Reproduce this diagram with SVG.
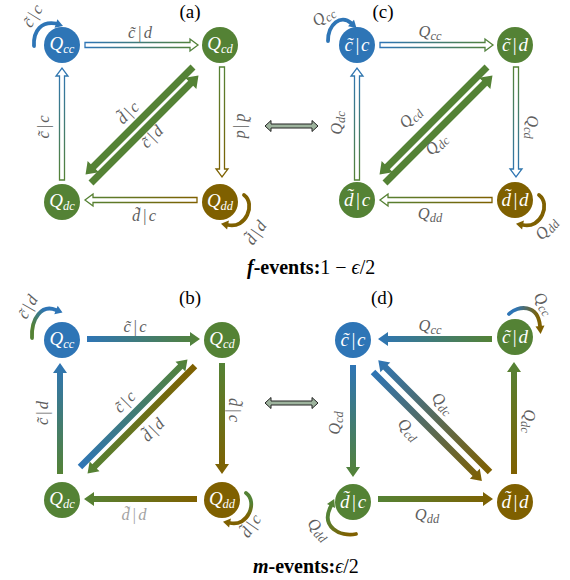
<svg xmlns="http://www.w3.org/2000/svg" width="570" height="580" viewBox="0 0 570 580">
<style>
.lbl{font-family:"Liberation Serif","DejaVu Serif",serif;font-style:italic;font-size:16.5px;fill:#5f5f5f;text-anchor:middle}
.lt{fill:#a3a3a3}
.nt{font-family:"Liberation Serif","DejaVu Serif",serif;font-style:italic;font-size:19px;fill:#fff;text-anchor:middle}
.sub{font-size:12.5px}
.pl{font-family:"Liberation Serif","DejaVu Serif",serif;font-size:19px;fill:#000;text-anchor:middle}
.ttl{font-family:"Liberation Serif","DejaVu Serif",serif;font-size:20px;fill:#000}
.hol{fill:#fff;stroke-width:1.3}
.blue{fill:#2E75B6}.green{fill:#548235}.brown{fill:#7F6000}
.loop{fill:none;stroke-width:3.8;stroke-linecap:round}
.dbl{fill:#9DB39D;stroke:#222;stroke-width:1}
</style>
<defs>
<linearGradient id="gBG"><stop offset="0" stop-color="#2E75B6"/><stop offset="1" stop-color="#548235"/></linearGradient>
<linearGradient id="gGB"><stop offset="0" stop-color="#548235"/><stop offset="1" stop-color="#2E75B6"/></linearGradient>
<linearGradient id="gGR"><stop offset="0" stop-color="#548235"/><stop offset="1" stop-color="#7F6000"/></linearGradient>
<linearGradient id="gRG"><stop offset="0" stop-color="#7F6000"/><stop offset="1" stop-color="#548235"/></linearGradient>
<linearGradient id="gBR"><stop offset="0" stop-color="#2E75B6"/><stop offset="1" stop-color="#7F6000"/></linearGradient>
<linearGradient id="gRB"><stop offset="0" stop-color="#7F6000"/><stop offset="1" stop-color="#2E75B6"/></linearGradient>
<linearGradient id="lpB1" gradientUnits="userSpaceOnUse" x1="32" y1="338" x2="62" y2="310"><stop offset="0.2" stop-color="#548235"/><stop offset="0.7" stop-color="#2E75B6"/></linearGradient>
<linearGradient id="lpB2" gradientUnits="userSpaceOnUse" x1="0" y1="494" x2="0" y2="523"><stop offset="0.3" stop-color="#548235"/><stop offset="0.8" stop-color="#7F6000"/></linearGradient>
<linearGradient id="lpD1" gradientUnits="userSpaceOnUse" x1="509" y1="0" x2="542" y2="0"><stop offset="0.2" stop-color="#2E75B6"/><stop offset="0.9" stop-color="#7F6000"/></linearGradient>
<linearGradient id="lpD2" gradientUnits="userSpaceOnUse" x1="356" y1="534" x2="330" y2="500"><stop offset="0.1" stop-color="#7F6000"/><stop offset="0.7" stop-color="#548235"/></linearGradient>
</defs>

<g id="connectors">
<!-- (a) -->
<path class="hol" stroke="url(#gBG)" transform="translate(85,45)" d="M0,-2.5 H105 V-6 L113,0 L105,6 V2.5 H0 Z"/>
<path class="hol" stroke="url(#gGB)" transform="translate(62,180) rotate(-90)" d="M0,-2.5 H104 V-6 L112,0 L104,6 V2.5 H0 Z"/>
<path class="hol" stroke="url(#gGR)" transform="translate(222,67) rotate(90)" d="M0,-2.5 H102 V-6 L110,0 L102,6 V2.5 H0 Z"/>
<path class="hol" stroke="url(#gRG)" transform="translate(197,200) rotate(180)" d="M0,-2.5 H104 V-6 L112,0 L104,6 V2.5 H0 Z"/>
<path class="green" transform="translate(193,67) rotate(135)" d="M0,-3.5 H141 V-8 L152,0 L141,8 V3.5 H0 Z"/>
<path class="green" transform="translate(91,183) rotate(-45)" d="M0,-3.5 H141 V-8 L152,0 L141,8 V3.5 H0 Z"/>
<path class="loop" stroke="#2E75B6" d="M34,46 C33,30 42,21 56,23.5"/>
<path class="blue" d="M63,26 L54.6,27.8 L57.4,19.2 Z"/>
<path class="loop" stroke="#7F6000" d="M244,195 C256,204 246,229 228,225"/>
<path class="brown" d="M221,223.7 L228.9,220.6 L227.1,229.4 Z"/>

<!-- (c) -->
<path class="hol" stroke="url(#gBG)" transform="translate(380,45)" d="M0,-2.5 H105 V-6 L113,0 L105,6 V2.5 H0 Z"/>
<path class="hol" stroke="url(#gGB)" transform="translate(357,180) rotate(-90)" d="M0,-2.5 H104 V-6 L112,0 L104,6 V2.5 H0 Z"/>
<path class="hol" stroke="url(#gGB)" transform="translate(516,67) rotate(90)" d="M0,-2.5 H102 V-6 L110,0 L102,6 V2.5 H0 Z"/>
<path class="hol" stroke="url(#gRG)" transform="translate(492,200) rotate(180)" d="M0,-2.5 H104 V-6 L112,0 L104,6 V2.5 H0 Z"/>
<path class="green" transform="translate(487,67) rotate(135)" d="M0,-3.5 H141 V-8 L152,0 L141,8 V3.5 H0 Z"/>
<path class="green" transform="translate(385,183) rotate(-45)" d="M0,-3.5 H141 V-8 L152,0 L141,8 V3.5 H0 Z"/>
<path class="loop" stroke="#2E75B6" d="M328,41 C328,24 341,14 351,23"/>
<path class="blue" d="M356.5,28 L348,26.3 L354,19.7 Z"/>
<path class="loop" stroke="#7F6000" d="M539,195 C551,204 541,229 523,225"/>
<path class="brown" d="M516,223.7 L523.9,220.6 L522.1,229.4 Z"/>

<!-- double arrows -->
<path class="dbl" d="M265,126 L271,120.5 V124 H312 V120.5 L318,126 L312,131.5 V128 H271 V131.5 Z"/>
<path class="dbl" d="M265,403 L271,397.5 V401 H312 V397.5 L318,403 L312,408.5 V405 H271 V408.5 Z"/>

<!-- (b) -->
<path fill="url(#gBG)" transform="translate(87,339)" d="M0,-3 H103 V-7 L113,0 L103,7 V3 H0 Z"/>
<path fill="url(#gGB)" transform="translate(60,474) rotate(-90)" d="M0,-3 H101 V-7 L111,0 L101,7 V3 H0 Z"/>
<path fill="url(#gGR)" transform="translate(222,363) rotate(90)" d="M0,-3 H101 V-7 L111,0 L101,7 V3 H0 Z"/>
<path fill="url(#gRG)" transform="translate(197,499) rotate(180)" d="M0,-3 H103 V-7 L113,0 L103,7 V3 H0 Z"/>
<path fill="url(#gBG)" transform="translate(80,467) rotate(-45)" d="M0,-3.2 H142 V-7 L152,0 L142,7 V3.2 H0 Z"/>
<path fill="url(#gRG)" transform="translate(195,366) rotate(135)" d="M0,-3.2 H142 V-7 L152,0 L142,7 V3.2 H0 Z"/>
<path class="loop" stroke="url(#lpB1)" d="M32,338 C31,318 42,304 56,310"/>
<path class="blue" d="M62.5,312.6 L54.3,314.2 L57.7,305.8 Z"/>
<path class="loop" stroke="url(#lpB2)" d="M246,493 C258,502 248,527 230,523"/>
<path class="brown" d="M223,521.7 L230.9,518.6 L229.1,527.4 Z"/>

<!-- (d) -->
<path fill="url(#gGB)" transform="translate(492,339) rotate(180)" d="M0,-3 H104 V-7 L114,0 L104,7 V3 H0 Z"/>
<path fill="url(#gBG)" transform="translate(353,365) rotate(90)" d="M0,-3 H102 V-7 L112,0 L102,7 V3 H0 Z"/>
<path fill="url(#gRG)" transform="translate(514,474) rotate(-90)" d="M0,-3 H102 V-7 L112,0 L102,7 V3 H0 Z"/>
<path fill="url(#gGR)" transform="translate(378,499)" d="M0,-3 H105 V-7 L115,0 L105,7 V3 H0 Z"/>
<path fill="url(#gBR)" transform="translate(373,372) rotate(45)" d="M0,-3.2 H144 V-7 L154,0 L144,7 V3.2 H0 Z"/>
<path fill="url(#gRB)" transform="translate(490,472) rotate(-135)" d="M0,-3.2 H148 V-7 L158,0 L148,7 V3.2 H0 Z"/>
<path class="loop" stroke="url(#lpD1)" d="M509,314 C518,305 538,304 540,326"/>
<path class="brown" d="M540.6,334 L535.5,326.4 L544.5,325.6 Z"/>
<path class="loop" stroke="url(#lpD2)" d="M356,534 C340,537 320,527 331,506"/>
<path class="green" d="M334.2,499 L335,508.1 L327,503.9 Z"/>
</g>

<g id="edge-labels">
<!-- (a) -->
<text class="lbl" transform="translate(33,16) rotate(-58)" y="5">c̃<tspan dx="2">|</tspan><tspan dx="2">c</tspan></text>
<text class="lbl" x="140" y="38">c̃<tspan dx="2">|</tspan><tspan dx="2">d</tspan></text>
<text class="lbl" transform="translate(44,127) rotate(-90)" y="5">c̃<tspan dx="2">|</tspan><tspan dx="2">c</tspan></text>
<text class="lbl" transform="translate(242,126) rotate(90)" y="5">d̃<tspan dx="2">|</tspan><tspan dx="2">d</tspan></text>
<text class="lbl" x="144" y="221">d̃<tspan dx="2">|</tspan><tspan dx="2">c</tspan></text>
<text class="lbl" transform="translate(128,113) rotate(-45)" y="5">d̃<tspan dx="2">|</tspan><tspan dx="2">c</tspan></text>
<text class="lbl" transform="translate(152,137) rotate(-45)" y="5">c̃<tspan dx="2">|</tspan><tspan dx="2">d</tspan></text>
<text class="lbl" transform="translate(256,233) rotate(-55)" y="5">d̃<tspan dx="2">|</tspan><tspan dx="2">d</tspan></text>
<!-- (c) -->
<text class="lbl" transform="translate(324,17) rotate(-35)" y="4">Q<tspan class="sub" dy="3">cc</tspan></text>
<text class="lbl" x="430" y="37">Q<tspan class="sub" dy="3">cc</tspan></text>
<text class="lbl" transform="translate(338,123) rotate(-90)" y="4">Q<tspan class="sub" dy="3">dc</tspan></text>
<text class="lbl" transform="translate(531,127) rotate(90)" y="4">Q<tspan class="sub" dy="3">cd</tspan></text>
<text class="lbl" x="430" y="219">Q<tspan class="sub" dy="3">dd</tspan></text>
<text class="lbl" transform="translate(411,118) rotate(-45)" y="4">Q<tspan class="sub" dy="3">cd</tspan></text>
<text class="lbl" transform="translate(437,145) rotate(-45)" y="4">Q<tspan class="sub" dy="3">dc</tspan></text>
<text class="lbl" transform="translate(547,229) rotate(-50)" y="4">Q<tspan class="sub" dy="3">dd</tspan></text>
<!-- (b) -->
<text class="lbl" transform="translate(28,307) rotate(-60)" y="5">c̃<tspan dx="2">|</tspan><tspan dx="2">d</tspan></text>
<text class="lbl" x="135" y="332">c̃<tspan dx="2">|</tspan><tspan dx="2">c</tspan></text>
<text class="lbl" transform="translate(43,413) rotate(-90)" y="5">c̃<tspan dx="2">|</tspan><tspan dx="2">d</tspan></text>
<text class="lbl" transform="translate(234,410) rotate(90)" y="5">d̃<tspan dx="2">|</tspan><tspan dx="2">c</tspan></text>
<text class="lbl lt" x="134" y="520">d̃<tspan dx="2">|</tspan><tspan dx="2">d</tspan></text>
<text class="lbl" transform="translate(125,402) rotate(-45)" y="5">c̃<tspan dx="2">|</tspan><tspan dx="2">c</tspan></text>
<text class="lbl" transform="translate(153,430) rotate(-45)" y="5">d̃<tspan dx="2">|</tspan><tspan dx="2">d</tspan></text>
<text class="lbl" transform="translate(251,526) rotate(-55)" y="5">d̃<tspan dx="2">|</tspan><tspan dx="2">c</tspan></text>
<!-- (d) -->
<text class="lbl" transform="translate(543,304) rotate(55)" y="4">Q<tspan class="sub" dy="3">cc</tspan></text>
<text class="lbl" x="430" y="331">Q<tspan class="sub" dy="3">cc</tspan></text>
<text class="lbl" transform="translate(336,423) rotate(-90)" y="4">Q<tspan class="sub" dy="3">cd</tspan></text>
<text class="lbl" transform="translate(528,421) rotate(90)" y="4">Q<tspan class="sub" dy="3">dc</tspan></text>
<text class="lbl" transform="translate(442,404) rotate(45)" y="4">Q<tspan class="sub" dy="3">dc</tspan></text>
<text class="lbl" transform="translate(408,430) rotate(45)" y="4">Q<tspan class="sub" dy="3">cd</tspan></text>
<text class="lbl" x="427" y="520">Q<tspan class="sub" dy="3">dd</tspan></text>
<text class="lbl" transform="translate(318,530) rotate(45)" y="4">Q<tspan class="sub" dy="3">dd</tspan></text>
</g>

<!-- nodes (a) -->
<g id="a-Qcc"><circle class="blue" cx="62" cy="45" r="18"/><text class="nt" x="62" y="50">Q<tspan class="sub" dy="3">cc</tspan></text></g>
<g id="a-Qcd"><circle class="green" cx="220" cy="45" r="18"/><text class="nt" x="220" y="50">Q<tspan class="sub" dy="3">cd</tspan></text></g>
<g id="a-Qdc"><circle class="green" cx="62" cy="202" r="18"/><text class="nt" x="62" y="207">Q<tspan class="sub" dy="3">dc</tspan></text></g>
<g id="a-Qdd"><circle class="brown" cx="220" cy="202" r="18"/><text class="nt" x="220" y="207">Q<tspan class="sub" dy="3">dd</tspan></text></g>
<!-- nodes (c) -->
<g id="c-cc"><circle class="blue" cx="357" cy="45" r="18"/><text class="nt" x="357" y="51">c̃<tspan dx="1.5">|</tspan><tspan dx="1.5">c</tspan></text></g>
<g id="c-cd"><circle class="green" cx="515" cy="45" r="18"/><text class="nt" x="515" y="51">c̃<tspan dx="1.5">|</tspan><tspan dx="1.5">d</tspan></text></g>
<g id="c-dc"><circle class="green" cx="357" cy="200" r="18"/><text class="nt" x="357" y="206">d̃<tspan dx="1.5">|</tspan><tspan dx="1.5">c</tspan></text></g>
<g id="c-dd"><circle class="brown" cx="515" cy="200" r="18"/><text class="nt" x="515" y="206">d̃<tspan dx="1.5">|</tspan><tspan dx="1.5">d</tspan></text></g>
<!-- nodes (b) -->
<g id="b-Qcc"><circle class="blue" cx="62" cy="340" r="18"/><text class="nt" x="62" y="345">Q<tspan class="sub" dy="3">cc</tspan></text></g>
<g id="b-Qcd"><circle class="green" cx="222" cy="340" r="18"/><text class="nt" x="222" y="345">Q<tspan class="sub" dy="3">cd</tspan></text></g>
<g id="b-Qdc"><circle class="green" cx="62" cy="500" r="18"/><text class="nt" x="62" y="505">Q<tspan class="sub" dy="3">dc</tspan></text></g>
<g id="b-Qdd"><circle class="brown" cx="222" cy="500" r="18"/><text class="nt" x="222" y="505">Q<tspan class="sub" dy="3">dd</tspan></text></g>
<!-- nodes (d) -->
<g id="d-cc"><circle class="blue" cx="353" cy="340" r="18"/><text class="nt" x="353" y="346">c̃<tspan dx="1.5">|</tspan><tspan dx="1.5">c</tspan></text></g>
<g id="d-cd"><circle class="green" cx="515" cy="337" r="18"/><text class="nt" x="515" y="343">c̃<tspan dx="1.5">|</tspan><tspan dx="1.5">d</tspan></text></g>
<g id="d-dc"><circle class="green" cx="353" cy="502" r="18"/><text class="nt" x="353" y="508">d̃<tspan dx="1.5">|</tspan><tspan dx="1.5">c</tspan></text></g>
<g id="d-dd"><circle class="brown" cx="515" cy="502" r="18"/><text class="nt" x="515" y="508">d̃<tspan dx="1.5">|</tspan><tspan dx="1.5">d</tspan></text></g>

<g id="titles">
<text class="pl" x="190" y="18">(a)</text>
<text class="pl" x="383" y="18">(c)</text>
<text class="pl" x="190" y="304">(b)</text>
<text class="pl" x="382" y="304">(d)</text>
<text class="ttl" x="247" y="274"><tspan font-weight="bold" font-style="italic">f</tspan><tspan font-weight="bold">-events:</tspan>1 − <tspan font-style="italic">ϵ</tspan>/2</text>
<text class="ttl" x="253" y="573"><tspan font-weight="bold" font-style="italic">m</tspan><tspan font-weight="bold">-events:</tspan><tspan font-style="italic">ϵ</tspan>/2</text>
</g>
</svg>
